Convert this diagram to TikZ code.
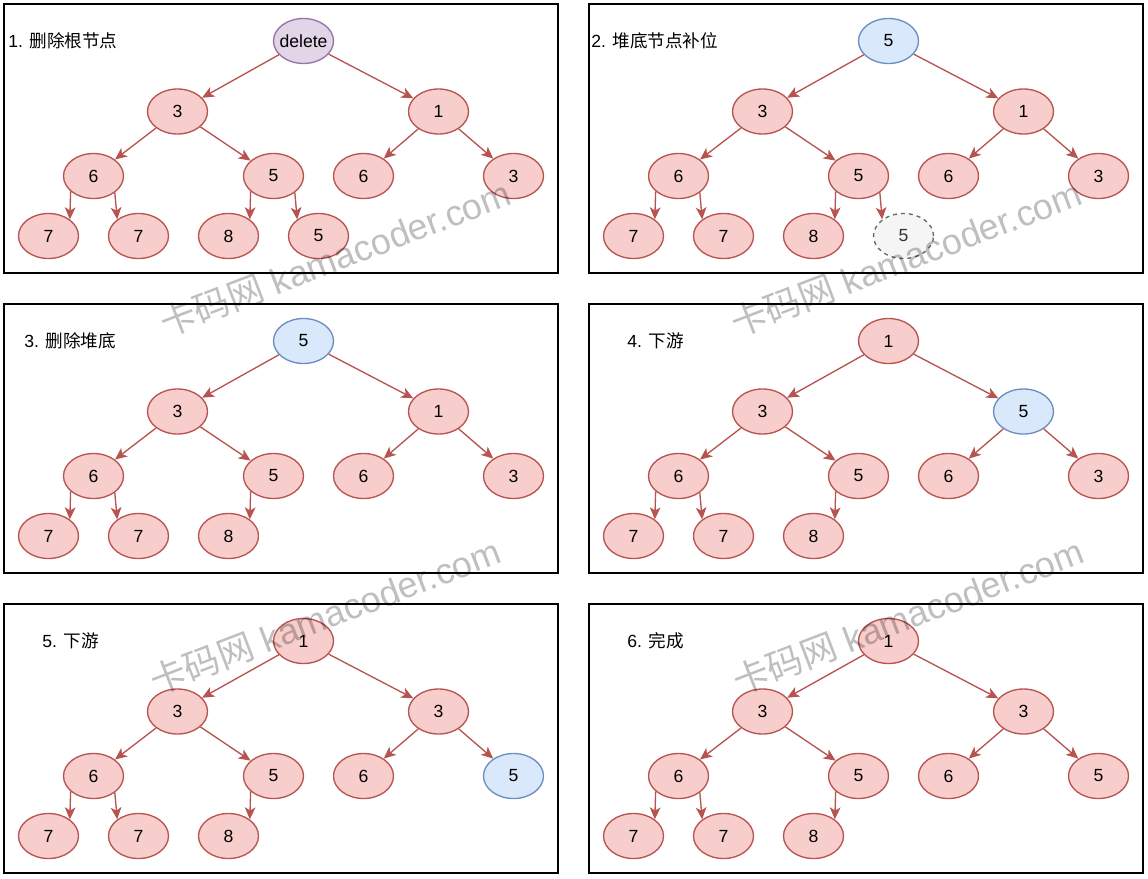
\documentclass[tikz,border=0pt]{standalone}
\usepackage{fontspec}
\setmainfont{Liberation Sans}
\newfontfamily\cjk{Noto Sans CJK SC}
\usetikzlibrary{arrows.meta,shapes.geometric}
\definecolor{redfill}{HTML}{F8CECC}
\definecolor{redline}{HTML}{B85450}
\definecolor{bluefill}{HTML}{DAE8FC}
\definecolor{blueline}{HTML}{6C8EBF}
\definecolor{purplefill}{HTML}{E1D5E7}
\definecolor{purpleline}{HTML}{9673A6}
\definecolor{grayfill}{HTML}{F5F5F5}
\definecolor{grayline}{HTML}{666666}
\tikzset{
  heapnode/.style={ellipse,draw=redline,fill=redfill,line width=1pt,minimum width=45pt,
    minimum height=33.75pt,inner sep=0pt,font=\fontsize{13.2}{15}\selectfont},
  hotnode/.style={heapnode,draw=blueline,fill=bluefill},
  delnode/.style={heapnode,draw=purpleline,fill=purplefill,inner xsep=-3pt},
  gonenode/.style={heapnode,draw=grayline,fill=grayfill,dashed,text=black!80},
  heaplink/.style={draw=redline,line width=1pt,-{Stealth[length=9pt,width=8pt,inset=2.4pt]}},
  panelbox/.style={draw=black,line width=1.1pt},
  paneltitle/.style={anchor=west,inner sep=0pt,font=\fontsize{13.2}{15}\selectfont},
  watermark/.style={rotate=21,text=black,text opacity=0.25,font=\fontsize{27}{30}\selectfont}
}

\begin{document}
\begin{tikzpicture}[x=0.75pt,y=-0.75pt]
  \path[fill=white,use as bounding box] (0,0) rectangle (1148,878);

  \begin{scope}[name prefix=a-]
  \draw[panelbox] (4,4) rectangle (558,273);
  \node[paneltitle] (title) at (8,41) {1. {\cjk 删除根节点}};
  \node[delnode] (n0) at (303.5,41) {delete};
  \node[heapnode] (n1) at (177.5,111.5) {3};
  \node[heapnode] (n2) at (438.5,111.5) {1};
  \node[heapnode] (n3) at (93.5,176) {6};
  \node[heapnode] (n4) at (273.5,176) {5};
  \node[heapnode] (n5) at (363.5,176) {6};
  \node[heapnode] (n6) at (513.5,176) {3};
  \node[heapnode] (n7) at (48.5,236) {7};
  \node[heapnode] (n8) at (138.5,236) {7};
  \node[heapnode] (n9) at (228.5,236) {8};
  \node[heapnode] (n10) at (318.5,236) {5};
  \draw[heaplink] (n0) -- (n1);
  \draw[heaplink] (n0) -- (n2);
  \draw[heaplink] (n1) -- (n3);
  \draw[heaplink] (n1) -- (n4);
  \draw[heaplink] (n2) -- (n5);
  \draw[heaplink] (n2) -- (n6);
  \draw[heaplink] (n3.214) -- (n7.38);
  \draw[heaplink] (n3.322) -- (n8.142);
  \draw[heaplink] (n4.214) -- (n9.38);
  \draw[heaplink] (n4.322) -- (n10.142);
  \end{scope}

  \begin{scope}[shift={(585,0)},name prefix=b-]
  \draw[panelbox] (4,4) rectangle (558,273);
  \node[paneltitle] (title) at (6,41) {2. {\cjk 堆底节点补位}};
  \node[hotnode] (n0) at (303.5,41) {5};
  \node[heapnode] (n1) at (177.5,111.5) {3};
  \node[heapnode] (n2) at (438.5,111.5) {1};
  \node[heapnode] (n3) at (93.5,176) {6};
  \node[heapnode] (n4) at (273.5,176) {5};
  \node[heapnode] (n5) at (363.5,176) {6};
  \node[heapnode] (n6) at (513.5,176) {3};
  \node[heapnode] (n7) at (48.5,236) {7};
  \node[heapnode] (n8) at (138.5,236) {7};
  \node[heapnode] (n9) at (228.5,236) {8};
  \node[gonenode] (n10) at (318.5,236) {5};
  \draw[heaplink] (n0) -- (n1);
  \draw[heaplink] (n0) -- (n2);
  \draw[heaplink] (n1) -- (n3);
  \draw[heaplink] (n1) -- (n4);
  \draw[heaplink] (n2) -- (n5);
  \draw[heaplink] (n2) -- (n6);
  \draw[heaplink] (n3.214) -- (n7.38);
  \draw[heaplink] (n3.322) -- (n8.142);
  \draw[heaplink] (n4.214) -- (n9.38);
  \draw[heaplink] (n4.322) -- (n10.142);
  \end{scope}

  \begin{scope}[shift={(0,300)},name prefix=c-]
  \draw[panelbox] (4,4) rectangle (558,273);
  \node[paneltitle] (title) at (24,41) {3. {\cjk 删除堆底}};
  \node[hotnode] (n0) at (303.5,41) {5};
  \node[heapnode] (n1) at (177.5,111.5) {3};
  \node[heapnode] (n2) at (438.5,111.5) {1};
  \node[heapnode] (n3) at (93.5,176) {6};
  \node[heapnode] (n4) at (273.5,176) {5};
  \node[heapnode] (n5) at (363.5,176) {6};
  \node[heapnode] (n6) at (513.5,176) {3};
  \node[heapnode] (n7) at (48.5,236) {7};
  \node[heapnode] (n8) at (138.5,236) {7};
  \node[heapnode] (n9) at (228.5,236) {8};
  \draw[heaplink] (n0) -- (n1);
  \draw[heaplink] (n0) -- (n2);
  \draw[heaplink] (n1) -- (n3);
  \draw[heaplink] (n1) -- (n4);
  \draw[heaplink] (n2) -- (n5);
  \draw[heaplink] (n2) -- (n6);
  \draw[heaplink] (n3.214) -- (n7.38);
  \draw[heaplink] (n3.322) -- (n8.142);
  \draw[heaplink] (n4.214) -- (n9.38);
  \end{scope}

  \begin{scope}[shift={(585,300)},name prefix=d-]
  \draw[panelbox] (4,4) rectangle (558,273);
  \node[paneltitle] (title) at (42,41) {4. {\cjk 下游}};
  \node[heapnode] (n0) at (303.5,41) {1};
  \node[heapnode] (n1) at (177.5,111.5) {3};
  \node[hotnode] (n2) at (438.5,111.5) {5};
  \node[heapnode] (n3) at (93.5,176) {6};
  \node[heapnode] (n4) at (273.5,176) {5};
  \node[heapnode] (n5) at (363.5,176) {6};
  \node[heapnode] (n6) at (513.5,176) {3};
  \node[heapnode] (n7) at (48.5,236) {7};
  \node[heapnode] (n8) at (138.5,236) {7};
  \node[heapnode] (n9) at (228.5,236) {8};
  \draw[heaplink] (n0) -- (n1);
  \draw[heaplink] (n0) -- (n2);
  \draw[heaplink] (n1) -- (n3);
  \draw[heaplink] (n1) -- (n4);
  \draw[heaplink] (n2) -- (n5);
  \draw[heaplink] (n2) -- (n6);
  \draw[heaplink] (n3.214) -- (n7.38);
  \draw[heaplink] (n3.322) -- (n8.142);
  \draw[heaplink] (n4.214) -- (n9.38);
  \end{scope}

  \begin{scope}[shift={(0,600)},name prefix=e-]
  \draw[panelbox] (4,4) rectangle (558,273);
  \node[paneltitle] (title) at (42,41) {5. {\cjk 下游}};
  \node[heapnode] (n0) at (303.5,41) {1};
  \node[heapnode] (n1) at (177.5,111.5) {3};
  \node[heapnode] (n2) at (438.5,111.5) {3};
  \node[heapnode] (n3) at (93.5,176) {6};
  \node[heapnode] (n4) at (273.5,176) {5};
  \node[heapnode] (n5) at (363.5,176) {6};
  \node[hotnode] (n6) at (513.5,176) {5};
  \node[heapnode] (n7) at (48.5,236) {7};
  \node[heapnode] (n8) at (138.5,236) {7};
  \node[heapnode] (n9) at (228.5,236) {8};
  \draw[heaplink] (n0) -- (n1);
  \draw[heaplink] (n0) -- (n2);
  \draw[heaplink] (n1) -- (n3);
  \draw[heaplink] (n1) -- (n4);
  \draw[heaplink] (n2) -- (n5);
  \draw[heaplink] (n2) -- (n6);
  \draw[heaplink] (n3.214) -- (n7.38);
  \draw[heaplink] (n3.322) -- (n8.142);
  \draw[heaplink] (n4.214) -- (n9.38);
  \end{scope}

  \begin{scope}[shift={(585,600)},name prefix=f-]
  \draw[panelbox] (4,4) rectangle (558,273);
  \node[paneltitle] (title) at (42,41) {6. {\cjk 完成}};
  \node[heapnode] (n0) at (303.5,41) {1};
  \node[heapnode] (n1) at (177.5,111.5) {3};
  \node[heapnode] (n2) at (438.5,111.5) {3};
  \node[heapnode] (n3) at (93.5,176) {6};
  \node[heapnode] (n4) at (273.5,176) {5};
  \node[heapnode] (n5) at (363.5,176) {6};
  \node[heapnode] (n6) at (513.5,176) {5};
  \node[heapnode] (n7) at (48.5,236) {7};
  \node[heapnode] (n8) at (138.5,236) {7};
  \node[heapnode] (n9) at (228.5,236) {8};
  \draw[heaplink] (n0) -- (n1);
  \draw[heaplink] (n0) -- (n2);
  \draw[heaplink] (n1) -- (n3);
  \draw[heaplink] (n1) -- (n4);
  \draw[heaplink] (n2) -- (n5);
  \draw[heaplink] (n2) -- (n6);
  \draw[heaplink] (n3.214) -- (n7.38);
  \draw[heaplink] (n3.322) -- (n8.142);
  \draw[heaplink] (n4.214) -- (n9.38);
  \end{scope}

  \node[watermark] (wm1) at (335,258) {{\cjk 卡码网} kamacoder.com};
  \node[watermark] (wm2) at (906,258) {{\cjk 卡码网} kamacoder.com};
  \node[watermark] (wm3) at (325,616) {{\cjk 卡码网} kamacoder.com};
  \node[watermark] (wm4) at (908,616) {{\cjk 卡码网} kamacoder.com};
\end{tikzpicture}
\end{document}
